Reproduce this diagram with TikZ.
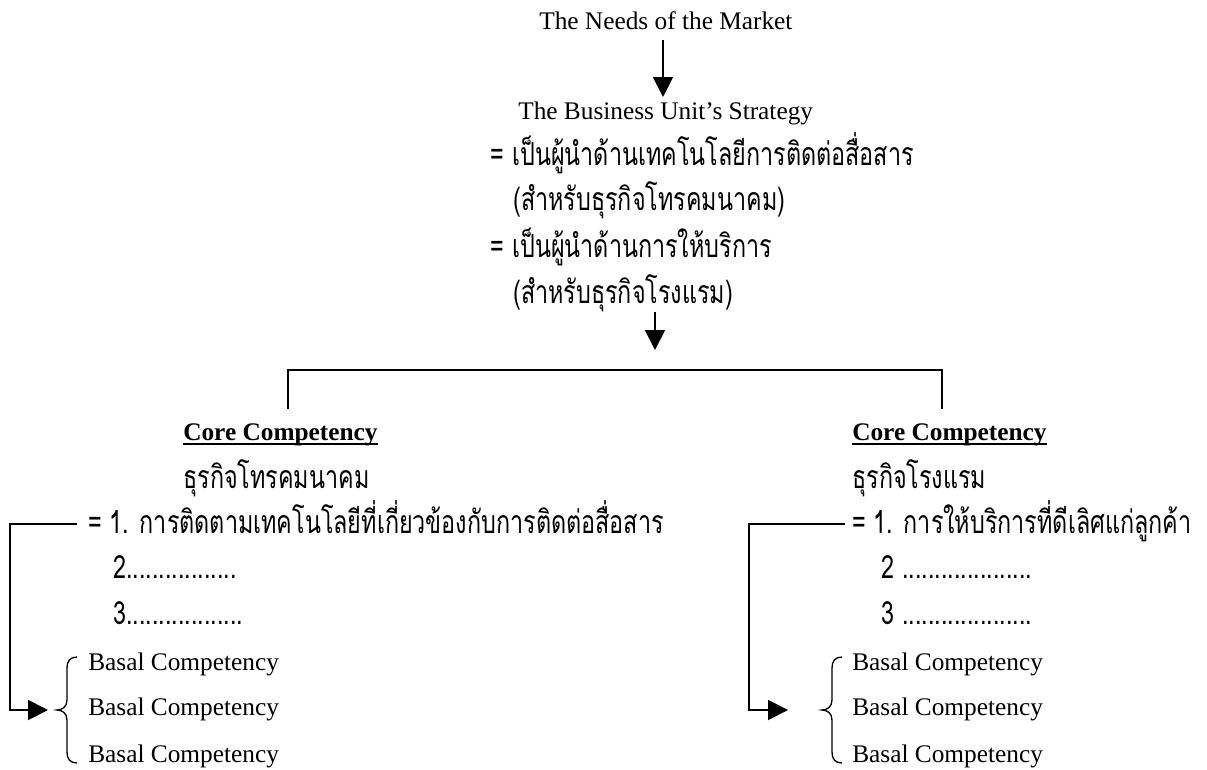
\documentclass[tikz,border=0pt]{standalone}
\usepackage{fontspec}
\setmainfont{Liberation Serif}
\newfontfamily\thaifont[Script=Thai,FakeStretch=0.73]{Loma}
\usetikzlibrary{arrows.meta}
\begin{document}
\begin{tikzpicture}[x=0.75pt,y=-0.75pt,
  lat/.style={anchor=base west,inner sep=0pt,font=\fontsize{19}{22}\selectfont},
  latb/.style={lat,font=\fontsize{19}{22}\selectfont\bfseries},
  th/.style={anchor=base west,inner sep=0pt,font=\fontsize{24}{28}\thaifont},
  ln/.style={line width=1.4pt},
  arr/.style={ln,-{Triangle[length=15pt,width=15pt]}},
  brc/.style={line width=1pt}]
\useasboundingbox (0,0) rectangle (1207,769);
% top
\node[lat] (needs) at (539,29) {The Needs of the Market};
\node[lat] (bus) at (518,119) {The Business Unit’s Strategy};
\node[th] (eq1) at (490,165) {=};
\node[th] (s1) at (512,165) {เป็นผู้นำด้านเทคโนโลยีการติดต่อสื่อสาร};
\node[th] (s2) at (513,210) {(สำหรับธุรกิจโทรคมนาคม)};
\node[th] (eq2) at (490,257) {=};
\node[th] (s3) at (512,257) {เป็นผู้นำด้านการให้บริการ};
\node[th] (s4) at (513,303) {(สำหรับธุรกิจโรงแรม)};
\coordinate (a1s) at (663,40); \coordinate (a1e) at (663,97);
\draw[arr] (a1s) -- (a1e);
\coordinate (a2s) at (655,312); \coordinate (a2e) at (655,350);
\draw[arr] (a2s) -- (a2e);
\coordinate (bl) at (288,409); \coordinate (br) at (942,409);
\draw[ln] (bl) |- (615,370) -| (br);
% left
\node[latb] (cc1) at (183,440) {Core Competency};
\draw[line width=0.9pt] ([yshift=-3pt]cc1.base west) -- ([yshift=-3pt]cc1.base east);
\node[th] (t1) at (183,488) {ธุรกิจโทรคมนาคม};
\node[th] (l1) at (88,533) {= 1. การติดตามเทคโนโลยีที่เกี่ยวข้องกับการติดต่อสื่อสาร};
\node[th] (l2) at (113,578) {2.................};
\node[th] (l3) at (113,624) {3..................};
\node[lat] (b1) at (88,670) {Basal Competency};
\node[lat] (b2) at (88,715) {Basal Competency};
\node[lat] (b3) at (88,762) {Basal Competency};
\draw[brc] (77,657) .. controls (70,657) and (67,661) .. (67,668) -- (67,700)
  .. controls (67,707) and (62,710) .. (57,710) .. controls (62,710) and (67,713) .. (67,720)
  -- (67,752) .. controls (67,759) and (70,763) .. (77,763);
\coordinate (ls) at (77,524); \coordinate (lt) at (48,710);
\draw[arr] (ls) -- (10,524) |- (lt);
% right
\node[latb] (cc2) at (852,440) {Core Competency};
\draw[line width=0.9pt] ([yshift=-3pt]cc2.base west) -- ([yshift=-3pt]cc2.base east);
\node[th] (t2) at (852,488) {ธุรกิจโรงแรม};
\node[th] (r1) at (852,533) {= 1. การให้บริการที่ดีเลิศแก่ลูกค้า};
\node[th] (r2) at (881,578) {2 ....................};
\node[th] (r3) at (881,624) {3 ....................};
\node[lat] (c1) at (852,670) {Basal Competency};
\node[lat] (c2) at (852,715) {Basal Competency};
\node[lat] (c3) at (852,762) {Basal Competency};
\draw[brc] (842,657) .. controls (835,657) and (832,661) .. (832,668) -- (832,700)
  .. controls (832,707) and (827,710) .. (822,710) .. controls (827,710) and (832,713) .. (832,720)
  -- (832,752) .. controls (832,759) and (835,763) .. (842,763);
\coordinate (rs) at (845,524); \coordinate (rt) at (788,710);
\draw[arr] (rs) -- (749,524) |- (rt);
\end{tikzpicture}
\end{document}
